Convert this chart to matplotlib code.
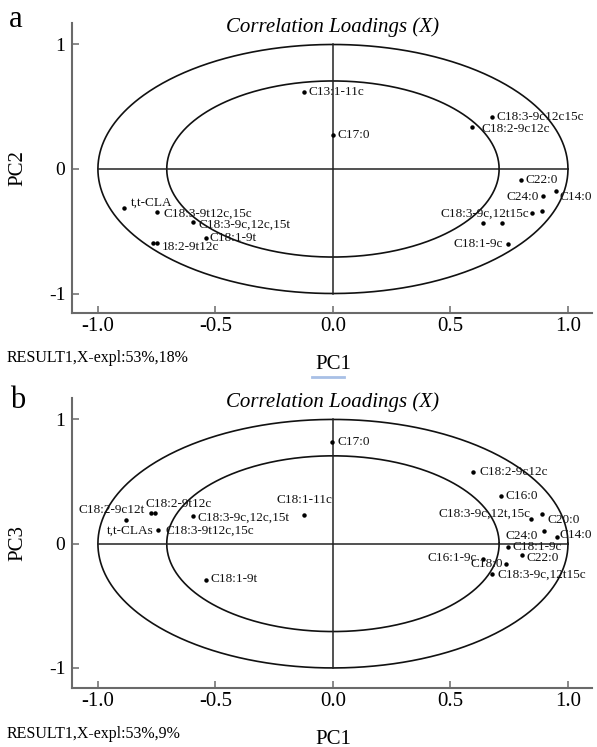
import matplotlib
matplotlib.use('Agg')
import matplotlib.pyplot as plt
from matplotlib.lines import Line2D
import numpy as np

plt.rcParams['font.family'] = ['Liberation Serif', 'DejaVu Serif']

# ---------------- data ----------------
# Panel a: PC1 vs PC2
names_a = ['C13:1-11c', 'C17:0', 'C18:3-9c12c15c', 'C18:2-9c12c', 'C22:0', 'C24:0',
           'C14:0', 'C18:3-9c,12t15c', '', '', '', 'C18:1-9c', 't,t-CLA',
           'C18:3-9t12c,15c', 'C18:3-9c,12c,15t', 'C18:1-9t', '18:2-9t12c', '']
pc1_a = [-0.122, -0.001, 0.675, 0.593, 0.800, 0.892, 0.949, 0.848, 0.890, 0.638, 0.718,
         0.743, -0.888, -0.750, -0.597, -0.542, -0.767, -0.750]
pc2_a = [0.621, 0.273, 0.420, 0.335, -0.088, -0.217, -0.177, -0.356, -0.335, -0.437, -0.437,
         -0.599, -0.316, -0.343, -0.428, -0.552, -0.592, -0.592]

# Panel b: PC1 vs PC3
names_b = ['C17:0', 'C18:2-9c12c', 'C16:0', 'C18:3-9c,12t,15c', 'C20:0', 'C24:0', 'C14:0',
           'C18:1-9c', 'C22:0', 'C16:1-9c', 'C18:0', 'C18:3-9c,12t15c', 'C18:1-11c',
           'C18:3-9c,12c,15t', 'C18:1-9t', 't,t-CLAs', 'C18:2-9c12t', 'C18:2-9t12c',
           'C18:3-9t12c,15c']
pc1_b = [-0.006, 0.594, 0.714, 0.843, 0.891, 0.896, 0.952, 0.743, 0.803, 0.640, 0.735,
         0.678, -0.122, -0.594, -0.542, -0.882, -0.776, -0.755, -0.746]
pc3_b = [0.816, 0.581, 0.380, 0.195, 0.236, 0.101, 0.053, -0.027, -0.094, -0.120, -0.161,
         -0.241, 0.227, 0.219, -0.295, 0.193, 0.246, 0.246, 0.107]

xtick_vals = [-1.0, -0.5, 0.0, 0.5, 1.0]
xtick_labels = ['-1.0', '-0.5', '0.0', '0.5', '1.0']
ytick_vals = [-1, 0, 1]
ytick_labels = ['-1', '0', '1']

# label offsets (pixels) and alignment
offs_a = [(4, 0, 'left'), (4.5, 0, 'left'), (5, 0, 'left'), (9, -2, 'left'), (5, 0, 'left'),
          (-4, -1, 'right'), (4, -6, 'left'), (-3, 0, 'right'), (0, 0, 'left'), (0, 0, 'left'),
          (0, 0, 'left'), (-5, 0, 'right'), (7, 5.6, 'left'), (6.5, -1.6, 'left'),
          (5.6, -2, 'left'), (4, 0, 'left'), (9, -4, 'left'), (0, 0, 'left')]
offs_b = [(5.6, 0, 'left'), (6.6, 0, 'left'), (5, 0, 'left'), (-1, 5.7, 'right'),
          (5, -5.3, 'left'), (-5.4, -4.5, 'right'), (3.3, 1.7, 'left'), (5, 0.5, 'left'),
          (5, -2.5, 'left'), (-6.6, 1, 'right'), (-2.5, 0, 'right'), (5, -0.7, 'left'),
          (0, 15, 'center'), (4.4, -1.3, 'left'), (5.3, 1, 'left'), (4.3, -10.7, 'center'),
          (-5.7, 2.7, 'right'), (-9.7, 8.7, 'left'), (8.3, -0.7, 'left')]

W, H = 597, 747
fig = plt.figure(figsize=(W / 100, H / 100), dpi=100)

def fy(py):
    return 1 - py / H

ax_a = fig.add_axes([72.3 / W, 1 - 313.3 / H, 519.4 / W, 290.6 / H])
ax_b = fig.add_axes([72.3 / W, 1 - 687.7 / H, 519.4 / W, 290.0 / H])

spine_col = '#6a6a6a'
t = np.linspace(0, 2 * np.pi, 600)

def setup(ax, xs, ys, names, offs, ylab):
    ax.set_xlim(-1.109, 1.101)
    ax.set_ylim(-1.159, 1.175)
    for r in (1.0, np.sqrt(0.5)):
        ax.plot(r * np.cos(t), r * np.sin(t), color='#111111', lw=1.2)
    ax.plot([-1, 1], [0, 0], color='#222222', lw=1.1)
    ax.plot([0, 0], [-1, 1], color='#222222', lw=1.1)
    ax.plot(xs, ys, 'o', ms=2.2, color='k', ls='none')
    for name, x, y, (dx, dy, ha) in zip(names, xs, ys, offs):
        if name:
            ax.annotate(name, (x, y), xytext=(dx, dy), textcoords='offset pixels',
                        ha=ha, va='center', fontsize=9.5, color='#111111')
    for s in ('top', 'right'):
        ax.spines[s].set_visible(False)
    for s in ('left', 'bottom'):
        ax.spines[s].set_color(spine_col)
        ax.spines[s].set_linewidth(1.5)
    ax.set_xticks(xtick_vals)
    ax.set_xticklabels(xtick_labels)
    ax.set_yticks(ytick_vals)
    ax.set_yticklabels(ytick_labels)
    ax.tick_params(axis='both', direction='in', length=5, width=1.1, color=spine_col)
    ax.tick_params(axis='x', labelsize=15, pad=3)
    ax.tick_params(axis='y', labelsize=14, pad=5)
    ax.text(-0.1045, 0.5, ylab, rotation=90, ha='center', va='center',
            transform=ax.transAxes, fontsize=15)

setup(ax_a, pc1_a, pc2_a, names_a, offs_a, 'PC2')
setup(ax_b, pc1_b, pc3_b, names_b, offs_b, 'PC3')

title = 'Correlation Loadings (X)'
fig.text(333 / W, fy(32), title, ha='center', va='baseline', style='italic', fontsize=15)
fig.text(333 / W, fy(407), title, ha='center', va='baseline', style='italic', fontsize=15)

fig.text(9 / W, fy(27), 'a', fontsize=22, va='baseline', ha='left')
fig.text(10 / W, fy(408), 'b', fontsize=22, va='baseline', ha='left')

fig.text(7 / W, fy(358), 'RESULT1,X-expl:53%,18%', ha='left', va='center', fontsize=11.5)
fig.text(333 / W, fy(364), 'PC1', ha='center', va='center', fontsize=15)
fig.text(7 / W, fy(734), 'RESULT1,X-expl:53%,9%', ha='left', va='center', fontsize=11.5)
fig.text(333 / W, fy(739), 'PC1', ha='center', va='center', fontsize=15)

fig.add_artist(Line2D([312 / W, 344 / W], [fy(377), fy(377)], color='#a8c0e6', lw=2))

fig.savefig('out.png', dpi=100)
